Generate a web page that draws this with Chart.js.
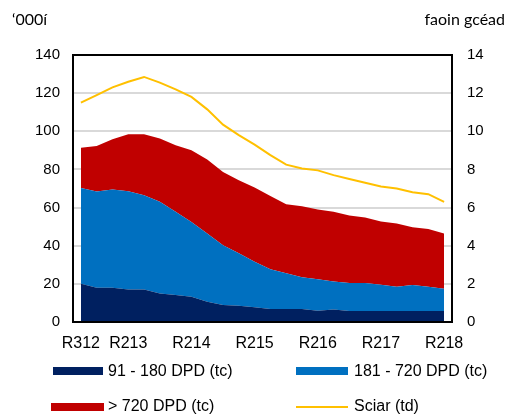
<!DOCTYPE html>
<html lang="ga">
<head>
<meta charset="UTF-8">
<title>Iasachtaí i riaráiste</title>
<script src="https://cdn.jsdelivr.net/npm/chart.js"></script>
<style>
  body { margin: 0; background: #fff; }
  #wrap { position: relative; width: 515px; height: 418px; }
  .t { position: absolute; font-family: Lato, sans-serif; font-size: 16px; color: #000; white-space: nowrap; }
  .lg { position: absolute; font-family: "Liberation Sans", Arial, sans-serif; font-size: 16px; color: #000; white-space: nowrap; }
  .sw { position: absolute; }
</style>
</head>
<body>
<div id="wrap">
  <canvas id="npl" width="515" height="418"></canvas>
  <div class="t" style="left:12px; top:9px;">&#8216;000í</div>
  <div class="t" style="right:10px; top:9px;">faoin gcéad</div>
  <div id="legend"></div>
</div>

<script>
  // quarters, R312 = Q3 2012 ... R218 = Q2 2018
  var quarters = ['R312','R412','R113','R213','R313','R413','R114','R214','R314','R414',
                  'R115','R215','R315','R415','R116','R216','R316','R416','R117','R217',
                  'R317','R417','R118','R218'];

  // '000s of loans (left axis)
  var dpd91to180  = [20.1,18.0,18.0,17.1,17.1,15.0,14.1,13.2,10.6,8.9,8.5,7.7,6.8,6.8,6.8,5.9,6.6,5.8,5.8,5.8,5.8,5.8,5.8,5.8];
  var dpd181to720 = [50.2,50.4,51.5,51.5,49.4,48.0,43.7,39.3,35.8,31.4,27.5,23.9,20.8,18.7,16.6,16.5,14.7,14.6,14.6,13.7,12.7,13.6,12.7,11.6];
  var dpdOver720  = [21.0,23.9,26.3,29.8,31.9,33.2,34.9,37.5,38.8,38.4,38.3,38.9,38.5,36.3,37.3,36.6,36.5,35.5,34.4,33.2,33.2,30.3,30.2,29.0];

  // share, per cent (right axis)
  var sciar = [11.5,11.9,12.3,12.6,12.85,12.55,12.2,11.8,11.15,10.35,9.8,9.3,8.75,8.25,8.05,7.95,7.7,7.5,7.3,7.1,7.0,6.8,6.7,6.3];

  var tickFont = { family: '"Liberation Sans", Arial, sans-serif', size: 15 };

  var frame = {
    id: 'frame',
    afterDatasetsDraw: function(chart) {
      var a = chart.chartArea, c = chart.ctx;
      c.save();
      c.strokeStyle = '#000';
      c.lineWidth = 2;
      c.strokeRect(a.left, a.top, a.right - a.left, a.bottom - a.top);
      c.restore();
    }
  };

  var ctx = document.getElementById('npl').getContext('2d');
  var chart = new Chart(ctx, {
    type: 'line',
    data: {
      labels: quarters,
      datasets: [
        { label: '91 - 180 DPD (tc)', data: dpd91to180, yAxisID: 'y', fill: 'origin',
          backgroundColor: '#002060', borderColor: '#002060', borderWidth: 0, pointRadius: 0 },
        { label: '181 - 720 DPD (tc)', data: dpd181to720, yAxisID: 'y', fill: '-1',
          backgroundColor: '#0070C0', borderColor: '#0070C0', borderWidth: 0, pointRadius: 0 },
        { label: '> 720 DPD (tc)', data: dpdOver720, yAxisID: 'y', fill: '-1',
          backgroundColor: '#C00000', borderColor: '#C00000', borderWidth: 0, pointRadius: 0 },
        { label: 'Sciar (td)', data: sciar, yAxisID: 'y1', fill: false,
          borderColor: '#FFC000', borderWidth: 2, pointRadius: 0 }
      ]
    },
    options: {
      responsive: false,
      animation: false,
      layout: { padding: { top: 55, bottom: 66, left: 0, right: 0 } },
      plugins: { legend: { display: false }, tooltip: { enabled: false } },
      elements: { line: { tension: 0 } },
      scales: {
        x: {
          offset: true,
          grid: { display: false, drawTicks: false },
          border: { display: false },
          ticks: {
            autoSkip: false, maxRotation: 0, padding: 12, color: '#000',
            font: { family: '"Liberation Sans", Arial, sans-serif', size: 16 },
            callback: function(v, i) {
              var l = quarters[i];
              return (i === 0 || l.charAt(1) === '2') ? l : '';
            }
          },
          afterFit: function(s) { s.height = 30; }
        },
        y: {
          position: 'left', stacked: true, min: 0, max: 140,
          grid: { color: '#d9d9d9', lineWidth: 2, drawTicks: false },
          border: { display: false },
          ticks: { stepSize: 20, padding: 13, color: '#000', font: tickFont },
          afterFit: function(s) { s.width = 73; }
        },
        y1: {
          position: 'right', min: 0, max: 14,
          grid: { display: false, drawTicks: false },
          border: { display: false },
          ticks: { stepSize: 2, padding: 15, color: '#000', font: tickFont },
          afterFit: function(s) { s.width = 63; }
        }
      }
    },
    plugins: [frame]
  });

  // legend in two columns under the chart
  var slots = [
    { sw: 'left:53px; top:367px; width:50px; height:8px;', tx: 'left:108px; top:362px;' },
    { sw: 'left:296px; top:367px; width:52px; height:8px;', tx: 'left:354px; top:362px;' },
    { sw: 'left:51px; top:403px; width:53px; height:8px;', tx: 'left:108px; top:397px;' },
    { sw: 'left:296px; top:406px; width:52px; height:2px;', tx: 'left:354px; top:397px;' }
  ];
  var html = '';
  chart.data.datasets.forEach(function(d, i) {
    var col = d.fill === false ? d.borderColor : d.backgroundColor;
    html += '<div class="sw" style="' + slots[i].sw + 'background:' + col + ';"></div>';
    html += '<div class="lg" style="' + slots[i].tx + '">' + d.label + '</div>';
  });
  document.getElementById('legend').innerHTML = html;
</script>
</body>
</html>
